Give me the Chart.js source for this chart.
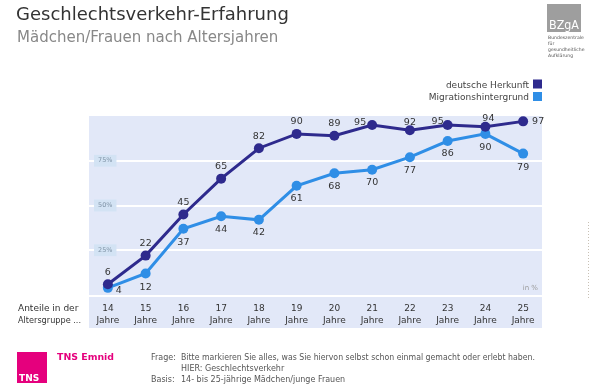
<!DOCTYPE html>
<html><head><meta charset="utf-8">
<script src="https://cdn.jsdelivr.net/npm/chart.js@4.4.1/dist/chart.umd.min.js"></script>
<style>html,body{margin:0;padding:0;background:#fff;}#wrap{width:590px;height:389px;position:relative;}</style>
</head><body><div id="wrap"><canvas id="c" width="590" height="389"></canvas></div>
<script>
const ages = ['14','15','16','17','18','19','20','21','22','23','24','25'];
const deutscheHerkunft = [6,22,45,65,82,90,89,95,92,95,94,97];
const migrationshintergrund = [4,12,37,44,42,61,68,70,77,86,90,79];
const seriesNames = ['deutsche Herkunft','Migrationshintergrund'];
const yTickValues = [25,50,75];

const FONT = '"DejaVu Sans", Verdana, sans-serif';
const DARK = '#2e2a8d';
const LIGHT = '#2f8ee6';
const BAND = '#e2e8f8';

// label offsets (style)
const darkOffsets = [[0,-12],[0,-12],[0,-12],[0,-12],[0,-12],[0,-12],[0,-12],[-12,-2],[0,-8],[-10,-3],[3,-8],[15,0]];
const lightOffsets = [[11,3],[0,14],[0,14],[0,13],[0,13],[0,13],[0,13],[0,13],[0,13],[0,12],[0,14],[0,14]];

function txt(ctx, s, x, y, font, color, align, maxW) {
  ctx.save();
  ctx.font = font; ctx.fillStyle = color; ctx.textAlign = align || 'left'; ctx.textBaseline = 'alphabetic';
  if (maxW) ctx.fillText(s, x, y, maxW); else ctx.fillText(s, x, y);
  ctx.restore();
}

const decor = {
  id: 'decor',
  beforeDraw(chart) {
    const {ctx, chartArea: a} = chart;
    ctx.save();
    ctx.fillStyle = BAND;
    ctx.fillRect(a.left, a.top, a.right - a.left, a.bottom - a.top);
    ctx.fillRect(a.left, a.bottom + 2, a.right - a.left, 31);
    ctx.restore();
  },
  afterDraw(chart) {
    const {ctx, chartArea: a} = chart;
    const offs = [darkOffsets, lightOffsets];
    chart.data.datasets.forEach((ds, di) => {
      const meta = chart.getDatasetMeta(di);
      meta.data.forEach((pt, i) => {
        const o = offs[di][i];
        ctx.save();
        ctx.font = '9.5px ' + FONT; ctx.fillStyle = '#333';
        ctx.textAlign = 'center'; ctx.textBaseline = 'middle';
        ctx.fillText(String(ds.data[i]), pt.x + o[0], pt.y + o[1]);
        ctx.restore();
      });
    });
    chart.data.datasets.forEach((ds, di) => {
      const y = 84 + di * 12.5;
      txt(ctx, ds.label, 529, y + 3.5, '9px ' + FONT, '#444', 'right');
      ctx.save(); ctx.fillStyle = ds.borderColor; ctx.fillRect(533, y - 4.5, 9, 9); ctx.restore();
    });
    txt(ctx, 'Geschlechtsverkehr-Erfahrung', 16, 20, '18px ' + FONT, '#333', 'left', 278);
    txt(ctx, 'Mädchen/Frauen nach Altersjahren', 17, 42, '15px ' + FONT, '#888', 'left', 262);
    txt(ctx, 'in %', 538, 290, '7px ' + FONT, '#9a9a9a', 'right');
    txt(ctx, 'Anteile in der', 18, 311, '9px ' + FONT, '#333', 'left', 63);
    txt(ctx, 'Altersgruppe ...', 18, 323, '9px ' + FONT, '#333', 'left', 63);
    ctx.save(); ctx.fillStyle = '#e5007d'; ctx.fillRect(17, 352, 30, 31); ctx.restore();
    txt(ctx, 'TNS', 19, 381, 'bold 9px ' + FONT, '#fff', 'left', 24);
    txt(ctx, 'TNS Emnid', 57, 360, 'bold 9.5px ' + FONT, '#e5007d', 'left', 57);
    const fn = '8px ' + FONT, fc = '#555';
    txt(ctx, 'Frage:', 151, 360, fn, fc, 'left');
    txt(ctx, 'Bitte markieren Sie alles, was Sie hiervon selbst schon einmal gemacht oder erlebt haben.', 181, 360, fn, fc, 'left', 354);
    txt(ctx, 'HIER: Geschlechtsverkehr', 181, 371, fn, fc, 'left');
    txt(ctx, 'Basis:', 151, 382, fn, fc, 'left');
    txt(ctx, '14- bis 25-jährige Mädchen/junge Frauen', 181, 382, fn, fc, 'left');
    ctx.save(); ctx.fillStyle = '#9e9e9e'; ctx.fillRect(547, 4, 34, 28); ctx.restore();
    txt(ctx, 'BZgA', 549, 29, '11.5px ' + FONT, '#fff', 'left', 30);
    const sf = '4.6px ' + FONT;
    txt(ctx, 'Bundeszentrale', 548, 39, sf, '#555', 'left');
    txt(ctx, 'für', 548, 45, sf, '#555', 'left');
    txt(ctx, 'gesundheitliche', 548, 51, sf, '#555', 'left');
    txt(ctx, 'Aufklärung', 548, 57, sf, '#555', 'left');
    ctx.save(); ctx.strokeStyle = '#c8c0b4'; ctx.setLineDash([1,2]); ctx.lineWidth = 1;
    ctx.beginPath(); ctx.moveTo(588.5, 222); ctx.lineTo(588.5, 300); ctx.stroke(); ctx.restore();
  }
};

new Chart(document.getElementById('c'), {
  type: 'line',
  data: {
    labels: ages.map(a => [a, 'Jahre']),
    datasets: [
      { label: seriesNames[0], data: deutscheHerkunft, borderColor: DARK, backgroundColor: DARK,
        borderWidth: 3, pointRadius: 5, pointHoverRadius: 5, pointBorderWidth: 0, tension: 0, clip: false },
      { label: seriesNames[1], data: migrationshintergrund, borderColor: LIGHT, backgroundColor: LIGHT,
        borderWidth: 3, pointRadius: 5, pointHoverRadius: 5, pointBorderWidth: 0, tension: 0, clip: false }
    ]
  },
  options: {
    responsive: false,
    animation: false,
    devicePixelRatio: 1,
    layout: { padding: { left: 89, right: 48, top: 116, bottom: 61 } },
    plugins: { legend: { display: false }, tooltip: { enabled: false }, title: { display: false } },
    scales: {
      x: {
        offset: true,
        grid: { display: false, drawTicks: false },
        border: { display: false },
        afterFit(scale) { scale.height = 33; },
        ticks: { autoSkip: false, maxRotation: 0, minRotation: 0, padding: 8, color: '#333',
                 font: { family: FONT, size: 9, lineHeight: 1.33 } }
      },
      y: {
        min: 0, max: 100,
        afterFit(scale) { scale.width = 0; },
        afterBuildTicks(scale) { scale.ticks = [0].concat(yTickValues, [100]).map(v => ({ value: v })); },
        grid: { color: '#ffffff', lineWidth: 2, drawTicks: false },
        border: { display: false },
        ticks: {
          mirror: true, padding: 9, color: '#7f93a6',
          font: { family: FONT, size: 6.5 },
          showLabelBackdrop: true, backdropColor: '#d3e3f4', backdropPadding: { x: 4, y: 2 },
          callback(v) { return yTickValues.includes(v) ? v + '%' : null; }
        }
      }
    }
  },
  plugins: [decor]
});
</script>
</body></html>
